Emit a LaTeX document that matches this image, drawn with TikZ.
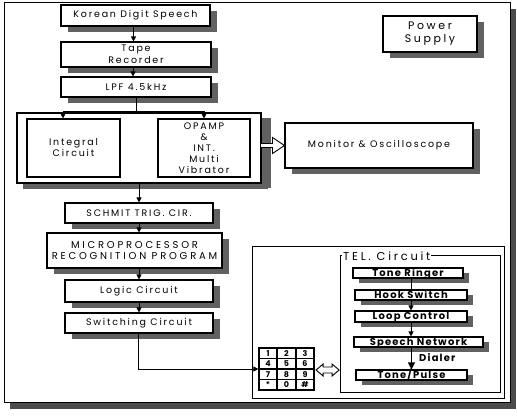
\documentclass[tikz,border=0pt]{standalone}
\usepackage{fontspec}
\setmainfont{Poppins}
\newfontfamily\boxfont{Poppins}[LetterSpace=19]
\newfontfamily\capfont{Poppins}[LetterSpace=28]
\newfontfamily\bigfont{Poppins}[LetterSpace=24]
\newfontfamily\telfont{Poppins Bold}[LetterSpace=12]
\newfontfamily\keyfont{Poppins Bold}
\usetikzlibrary{shadows,arrows.meta}
\colorlet{shade}{black!62}
\tikzset{
  sh/.style={drop shadow={shadow xshift=6.5bp,shadow yshift=-6bp,fill=shade,opacity=1}},
  box/.style={draw,fill=white,line width=1.1bp,inner sep=1bp,align=center,sh,font=\boxfont\fontsize{9.5}{12}\selectfont},
  inbox/.style={draw,fill=white,line width=1.1bp,inner sep=0pt,align=center,font=\boxfont\fontsize{9.5}{11}\selectfont},
  telbox/.style={draw,fill=white,line width=1.2bp,inner sep=0.5bp,align=center,text height=7.5bp,text depth=1.5bp,
    drop shadow={shadow xshift=6bp,shadow yshift=-5bp,fill=shade,opacity=1},font=\telfont\fontsize{10}{10}\selectfont},
  plain/.style={draw,line width=0.9bp},
  arr/.style={line width=0.8bp,-{Triangle[length=5bp,width=5bp]}},
  key/.style={font=\keyfont\fontsize{8}{8}\selectfont,inner sep=0pt},
  hollow/.style={draw,fill=white,line width=0.9bp,line join=miter}
}
\begin{document}
\begin{tikzpicture}[x=1bp,y=-1bp]
\useasboundingbox (0,0) rectangle (517,417);
% outer frame
\node[draw,line width=0.8bp,minimum width=506bp,minimum height=400bp,inner sep=0pt,
  drop shadow={shadow xshift=6bp,shadow yshift=-7bp,fill=black!70,opacity=1},fill=white] (frame) at (257,202) {};
% left column
\node[box,minimum width=149bp,minimum height=21bp] (kds) at (135.5,15.5) {Korean Digit Speech};
\node[box,minimum width=150bp,minimum height=25bp,font=\boxfont\fontsize{9.5}{12.5}\selectfont] (tape) at (136,54.5) {Tape\\Recorder};
\node[box,minimum width=150bp,minimum height=20bp] (lpf) at (136,87) {LPF 4.5kHz};
\node[box,minimum width=244bp,minimum height=70bp,drop shadow={shadow xshift=10bp,shadow yshift=-5bp,fill=shade,opacity=1}] (cont) at (139,148) {};
\node[inbox,minimum width=93bp,minimum height=58bp] (integ) at (73.5,148) {Integral\\Circuit};
\node[inbox,minimum width=92bp,minimum height=58bp] (opamp) at (204,148) {OPAMP\\\&\\INT.\\Multi\\Vibrator};
\node[box,minimum width=188bp,minimum height=45bp] (mon) at (379,145.5) {Monitor \& Oscilloscope};
\node[box,minimum width=94bp,minimum height=36bp,font=\bigfont\fontsize{11}{13}\selectfont] (pow) at (430,34) {Power\\Supply};
\node[box,minimum width=148bp,minimum height=20bp] (schmit) at (139,213) {SCHMIT TRIG. CIR.};
\node[box,minimum width=175bp,minimum height=35bp,font=\capfont\fontsize{10}{12}\selectfont] (micro) at (134.5,250.5) {MICROPROCESSOR\\RECOGNITION PROGRAM};
\node[box,minimum width=148bp,minimum height=22bp] (logic) at (139,291) {Logic Circuit};
\node[box,minimum width=148bp,minimum height=20bp] (switch) at (139,323) {Switching Circuit};
% lower right
\node[plain,minimum width=252bp,minimum height=152bp,inner sep=0pt] (lower) at (378,322) {};
\node[plain,minimum width=160bp,minimum height=137bp,inner sep=0pt] (tel) at (420,323.5) {};
\node[fill=white,inner sep=1bp,anchor=west,font=\bigfont\fontsize{11.5}{12}\selectfont] (tellabel) at (342,256) {TEL. Circuit};
\node[telbox,minimum width=110bp,minimum height=10bp] (tr) at (408,273) {Tone Ringer};
\node[telbox,minimum width=112bp,minimum height=10bp] (hook) at (411,295) {Hook Switch};
\node[telbox,minimum width=112bp,minimum height=11bp] (loop) at (411,316.5) {Loop Control};
\node[telbox,minimum width=129bp,minimum height=10bp] (speech) at (418.5,342) {Speech Network};
\node[telbox,minimum width=111bp,minimum height=10bp] (tp) at (411.5,375) {Tone/Pulse};
\node[font=\telfont\fontsize{10}{10}\selectfont,anchor=west,inner sep=0pt] (dialer) at (419,358) {Dialer};
% keypad
\node[draw,line width=1.2bp,minimum width=55bp,minimum height=42bp,inner sep=0pt] (keypad) at (286.5,369) {};
\draw[line width=1.2bp] (277,348) -- (277,390) (296,348) -- (296,390)
  (259,358.5) -- (314,358.5) (259,369) -- (314,369) (259,379.5) -- (314,379.5);
\node[key] (k1) at (268,353.25) {1};
\node[key] (k2) at (286.5,353.25) {2};
\node[key] (k3) at (305,353.25) {3};
\node[key] (k4) at (268,363.75) {4};
\node[key] (k5) at (286.5,363.75) {5};
\node[key] (k6) at (305,363.75) {6};
\node[key] (k7) at (268,374.25) {7};
\node[key] (k8) at (286.5,374.25) {8};
\node[key] (k9) at (305,374.25) {9};
\node[key] (k10) at (268,384.75) {*};
\node[key] (k11) at (286.5,384.75) {0};
\node[key] (k12) at (305,384.75) {\#};
% hollow arrows
\draw[hollow,shift={(mon.west)}] (0,0) -- (-12,-8) -- (-12,-2) -- (-24,-2) -- (-24,2) -- (-12,2) -- (-12,8) -- cycle;
\draw[hollow,shift={(keypad.east)}] (1.5,1) -- (8.5,-5) -- (8.5,-2) -- (17.5,-2) -- (17.5,-5) -- (24.5,1) -- (17.5,7) -- (17.5,4) -- (8.5,4) -- (8.5,7) -- cycle;
% connectors
\draw[arr] ([xshift=-2bp]kds.south) -- ([xshift=-2bp]kds.south |- tape.north);
\draw[arr] ([xshift=-3bp]tape.south) -- ([xshift=-3bp]tape.south |- lpf.north);
\coordinate (br) at (136,111);
\draw[line width=0.8bp] (lpf.south) -- (br);
\draw[arr] (br) -| ([xshift=-10.5bp]integ.north);
\draw[arr] (br) -| (opamp.north);
\draw[arr] (cont.south) -- (schmit.north);
\draw[arr] (schmit.south) -- (schmit.south |- micro.north);
\draw[arr] (logic.north |- micro.south) -- (logic.north);
\draw[arr] (logic.south) -- (switch.north);
\draw[arr] ([xshift=-1bp]switch.south) |- (keypad.west);
\draw[line width=0.8bp] (hook.north |- tr.south) -- (hook.north);
\draw[arr] (hook.south) -- (loop.north);
\draw[arr] (loop.south) -- (loop.south |- speech.north);
\draw[line width=1.2bp,-{Triangle[length=7bp,width=7bp]}] (tp.north |- speech.south) -- (tp.north);
\end{tikzpicture}
\end{document}
